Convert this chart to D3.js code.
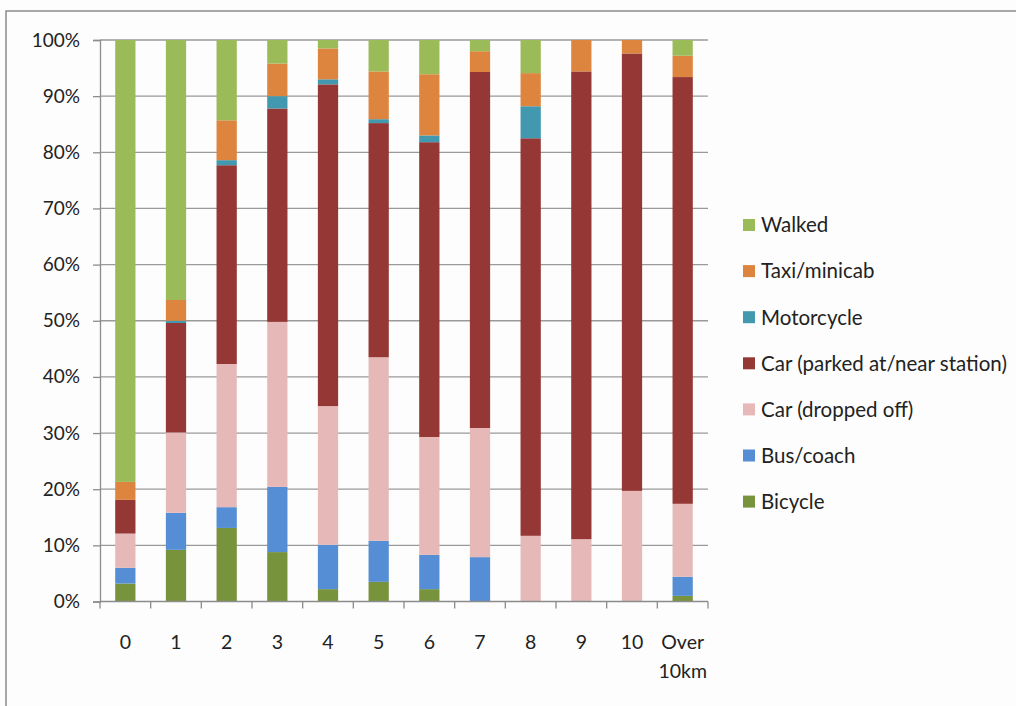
<!DOCTYPE html>
<html>
<head>
<meta charset="utf-8">
<script src="https://cdn.jsdelivr.net/npm/d3@7"></script>
<style>
  html, body { margin: 0; padding: 0; background: #fdfdfd; }
  svg { display: block; }
  text { font-family: Lato, "Open Sans", sans-serif; fill: #222; }
</style>
</head>
<body>
<svg id="chart" width="1016" height="706"></svg>
<script>
// Distance bands (km) from home to station
const categories = ["0", "1", "2", "3", "4", "5", "6", "7", "8", "9", "10", "Over 10km"];

// Share of trips by access mode, percent, stacked bottom to top
const bicycle  = [3.2, 9.2, 13.1, 8.8, 2.2, 3.5, 2.2, 0, 0, 0, 0, 1.0];
const bus      = [2.8, 6.6, 3.7, 11.6, 7.9, 7.3, 6.1, 7.9, 0, 0, 0, 3.4];
const dropped  = [6.1, 14.3, 25.5, 29.4, 24.7, 32.7, 21.0, 23.0, 11.7, 11.1, 19.7, 13.0];
const parked   = [6.0, 19.5, 35.4, 38.0, 57.3, 41.7, 52.5, 63.4, 70.8, 83.3, 77.9, 76.0];
const moto     = [0, 0.4, 0.9, 2.2, 0.9, 0.7, 1.2, 0, 5.7, 0, 0, 0];
const taxi     = [3.2, 3.7, 7.1, 5.8, 5.5, 8.5, 10.9, 3.7, 5.9, 5.6, 2.4, 3.8];
const walked   = [78.7, 46.3, 14.3, 4.2, 1.5, 5.6, 6.1, 2.0, 5.9, 0, 0, 2.8];

const seriesNames = ["Bicycle", "Bus/coach", "Car (dropped off)", "Car (parked at/near station)",
                     "Motorcycle", "Taxi/minicab", "Walked"];
const seriesValues = [bicycle, bus, dropped, parked, moto, taxi, walked];
const seriesColors = ["#77933C", "#558ED5", "#E6B9B8", "#953735", "#4198AF", "#DD843E", "#9BBB59"];

const yTicks = [0, 10, 20, 30, 40, 50, 60, 70, 80, 90, 100];

const svg = d3.select("#chart");

// outer chart frame
svg.append("path")
  .attr("d", "M6,706 V11 H1016")
  .attr("fill", "none")
  .attr("stroke", "#8c8c8c")
  .attr("stroke-width", 1.5);

const x = d3.scaleBand()
  .domain(categories)
  .range([100, 708])
  .paddingInner(0.6)
  .paddingOuter(0.3);

const y = d3.scaleLinear().domain([0, 100]).range([601.5, 40]);

// stacked table built from the series arrays
const rows = categories.map((c, i) => {
  const r = { cat: c };
  seriesNames.forEach((n, s) => { r[n] = seriesValues[s][i]; });
  return r;
});
const stacked = d3.stack().keys(seriesNames)(rows);

// horizontal gridlines
svg.append("g")
  .selectAll("line")
  .data(yTicks.filter(t => t > 0))
  .join("line")
  .attr("x1", 100).attr("x2", 708)
  .attr("y1", d => y(d)).attr("y2", d => y(d))
  .attr("stroke", "#9a9a9a")
  .attr("stroke-width", 1.3);

// bars
svg.append("g")
  .selectAll("g")
  .data(stacked)
  .join("g")
  .attr("fill", (d, i) => seriesColors[i])
  .selectAll("rect")
  .data(d => d)
  .join("rect")
  .attr("x", d => x(d.data.cat))
  .attr("width", x.bandwidth())
  .attr("y", d => y(d[1]))
  .attr("height", d => Math.max(0, y(d[0]) - y(d[1])));

// y axis
const yAxis = svg.append("g")
  .attr("transform", "translate(100,0)")
  .call(d3.axisLeft(y).tickValues(yTicks).tickFormat(d => d + "%").tickSize(7).tickPadding(13));
yAxis.select(".domain").attr("stroke", "#8c8c8c").attr("stroke-width", 1.3);
yAxis.selectAll(".tick line").attr("stroke", "#8c8c8c").attr("stroke-width", 1.3);
yAxis.selectAll(".tick text")
  .attr("font-size", 19)
  .style("font-family", "Lato, sans-serif")
  .attr("fill", "#222");

// x axis line and ticks at band boundaries
svg.append("line")
  .attr("x1", 100).attr("x2", 708)
  .attr("y1", y(0)).attr("y2", y(0))
  .attr("stroke", "#8c8c8c").attr("stroke-width", 1.3);
const boundaries = categories.map((c, i) => x.range()[0] + i * x.step());
boundaries.push(x.range()[1]);
svg.append("g")
  .selectAll("line")
  .data(boundaries)
  .join("line")
  .attr("x1", d => d).attr("x2", d => d)
  .attr("y1", y(0)).attr("y2", y(0) + 7)
  .attr("stroke", "#8c8c8c").attr("stroke-width", 1.3);

// x labels, wrapped on spaces
const xl = svg.append("g")
  .selectAll("text")
  .data(categories)
  .join("text")
  .attr("x", d => x(d) + x.bandwidth() / 2)
  .attr("y", 649)
  .attr("text-anchor", "middle")
  .attr("font-size", 19.5);
xl.each(function (d) {
  const words = d.split(" ");
  const t = d3.select(this);
  words.forEach((w, i) => {
    t.append("tspan")
      .attr("x", x(d) + x.bandwidth() / 2)
      .attr("dy", i === 0 ? 0 : 29)
      .text(w);
  });
});

// legend, top to bottom in reverse stacking order
const legendOrder = seriesNames.map((n, i) => i).reverse();
const lg = svg.append("g")
  .selectAll("g")
  .data(legendOrder)
  .join("g")
  .attr("transform", (d, k) => `translate(743,${225 + k * 46.1})`);
lg.append("rect")
  .attr("x", 0).attr("y", -6)
  .attr("width", 12).attr("height", 12)
  .attr("fill", d => seriesColors[d]);
lg.append("text")
  .attr("x", 18).attr("y", 0)
  .attr("dy", "0.36em")
  .attr("font-size", 20.5)
  .text(d => seriesNames[d]);
</script>
</body>
</html>
